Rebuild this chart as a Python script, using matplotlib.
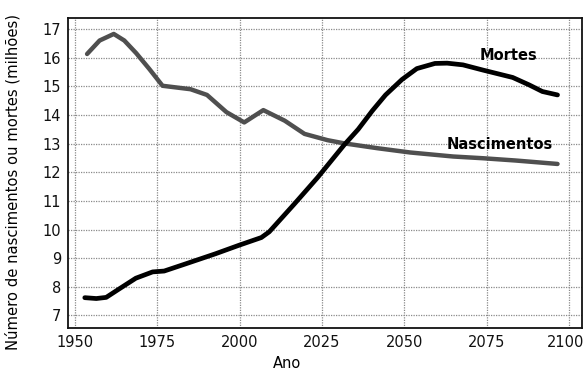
import matplotlib
matplotlib.use('Agg')
import matplotlib.pyplot as plt
import matplotlib.transforms as mtransforms

# Nascimentos (births), millions
anos_nasc = [1953.7, 1957.5, 1961.8, 1965.0, 1968.6, 1972.5, 1976.6, 1985.1, 1990.1, 1996.0,
             2001.4, 2007.2, 2013.7, 2019.7, 2026.7, 2031.7, 2041.8, 2051.8, 2064.8,
             2073.8, 2083.8, 2096.5]
nascimentos = [16.13, 16.60, 16.83, 16.60, 16.16, 15.62, 15.02, 14.90, 14.70, 14.10,
               13.74, 14.17, 13.80, 13.34, 13.12, 13.01, 12.84, 12.69, 12.55,
               12.49, 12.41, 12.29]

# Mortes (deaths), millions
anos_mort = [1953.0, 1956.5, 1959.5, 1963.5, 1968.5, 1973.6, 1977.1, 1983.6, 1992.6, 1999.8,
             2006.6, 2009.0, 2016.6, 2023.7, 2031.7, 2036.0, 2040.3, 2044.3, 2049.3, 2053.8,
             2059.3, 2063.0, 2067.8, 2073.8, 2082.9, 2087.9, 2091.9, 2096.5]
mortes = [7.62, 7.59, 7.63, 7.93, 8.30, 8.52, 8.55, 8.80, 9.15, 9.45,
          9.72, 9.92, 10.89, 11.82, 12.95, 13.50, 14.15, 14.70, 15.24, 15.62,
          15.80, 15.81, 15.75, 15.57, 15.31, 15.05, 14.82, 14.70]

anos_ticks = [1950, 1975, 2000, 2025, 2050, 2075, 2100]
valores_ticks = list(range(7, 18))

fig = plt.figure(figsize=(5.86, 3.75), dpi=100)
ax = fig.add_axes([0.116, 0.1245, 0.877, 0.8285])

ax.plot(anos_nasc, nascimentos, color='#4f4f4f', lw=3.2,
        solid_capstyle='round', solid_joinstyle='round', zorder=3)
ax.plot(anos_mort, mortes, color='black', lw=3.4,
        solid_capstyle='round', solid_joinstyle='round', zorder=4)

ax.text(2081.6, 16.06, 'Mortes', fontsize=10.5, fontweight='bold', ha='center', va='center', zorder=5)
ax.text(2079.1, 12.96, 'Nascimentos', fontsize=10.5, fontweight='bold', ha='center', va='center', zorder=5)

ax.set_xlim(1947.9, 2103.9)
ax.set_ylim(6.55, 17.4)
ax.set_xticks(anos_ticks)
ax.set_yticks(valores_ticks)
ax.tick_params(length=0, labelsize=10.5, colors='#111111')
ax.tick_params(axis='y', pad=5)
ax.tick_params(axis='x', pad=5)

# keep the last year label inside the canvas
last = ax.get_xticklabels()[-1]
last.set_transform(last.get_transform() + mtransforms.ScaledTranslation(-3 / 100, 0, fig.dpi_scale_trans))

ax.grid(True, color='#8a8a8a', linestyle=(0, (1, 1)), linewidth=0.9)
ax.set_axisbelow(True)
for s in ax.spines.values():
    s.set_linewidth(1.3)
    s.set_color('#111111')

ax.set_xlabel('Ano', fontsize=10.5)
ax.xaxis.set_label_coords(0.426, -0.088)
ax.set_ylabel('Número de nascimentos ou mortes (milhões)', fontsize=10.6)
ax.yaxis.set_label_coords(-0.093, 0.471)

fig.savefig('out.png', dpi=100)
